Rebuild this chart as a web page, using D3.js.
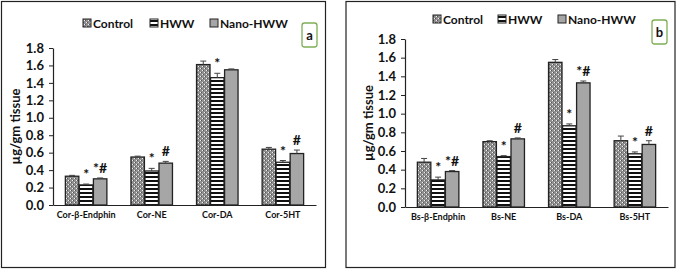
<!DOCTYPE html>
<html>
<head>
<meta charset="utf-8">
<script src="https://d3js.org/d3.v7.min.js"></script>
<style>
  body { margin: 0; background: #fff; }
  text { font-family: Lato, "Open Sans", sans-serif; font-weight: bold; }
</style>
</head>
<body>
<svg id="fig" width="677" height="270"></svg>
<script>
// groups in the legend
const groups = ["Control", "HWW", "Nano-HWW"];

// panel a (cortex)
const corCats = ["Cor-β-Endphin", "Cor-NE", "Cor-DA", "Cor-5HT"];
const corControl = [0.33, 0.55, 1.61, 0.64];
const corHWW = [0.23, 0.39, 1.46, 0.49];
const corNano = [0.30, 0.48, 1.55, 0.59];
const corControlErr = [0.01, 0.01, 0.04, 0.02];
const corHWWErr = [0.01, 0.03, 0.05, 0.02];
const corNanoErr = [0.01, 0.02, 0.01, 0.04];
const corHWWSig = ["*", "*", "*", "*"];
const corNanoSig = ["*#", "#", "", "#"];

// panel b (brain stem)
const bsCats = ["Bs-β-Endphin", "Bs-NE", "Bs-DA", "Bs-5HT"];
const bsControl = [0.48, 0.70, 1.55, 0.71];
const bsHWW = [0.29, 0.54, 0.87, 0.57];
const bsNano = [0.38, 0.73, 1.33, 0.67];
const bsControlErr = [0.04, 0.01, 0.03, 0.05];
const bsHWWErr = [0.03, 0.01, 0.02, 0.02];
const bsNanoErr = [0.01, 0.01, 0.02, 0.04];
const bsHWWSig = ["*", "*", "*", "*"];
const bsNanoSig = ["*#", "#", "*#", "#"];

const yTicks = [0, 0.2, 0.4, 0.6, 0.8, 1.0, 1.2, 1.4, 1.6, 1.8];

const svg = d3.select("#fig");
const defs = svg.append("defs");

// dotted / checkered fill for control
let pc = defs.append("pattern").attr("id", "pControl")
    .attr("patternUnits", "userSpaceOnUse").attr("width", 4).attr("height", 4);
pc.append("rect").attr("width", 4).attr("height", 4).attr("fill", "#8f8f8f");
pc.append("rect").attr("width", 1).attr("height", 1).attr("fill", "#f2f2f2");
pc.append("rect").attr("x", 2).attr("y", 2).attr("width", 1).attr("height", 1).attr("fill", "#f2f2f2");
pc.append("rect").attr("x", 1).attr("y", 0).attr("width", 1).attr("height", 1).attr("fill", "#555");
pc.append("rect").attr("x", 3).attr("y", 2).attr("width", 1).attr("height", 1).attr("fill", "#555");

// horizontal stripes for HWW
let ph = defs.append("pattern").attr("id", "pHWW")
    .attr("patternUnits", "userSpaceOnUse").attr("width", 4).attr("height", 4);
ph.append("rect").attr("width", 4).attr("height", 4).attr("fill", "#fff");
ph.append("rect").attr("width", 4).attr("height", 2).attr("fill", "#111");

const fills = ["url(#pControl)", "url(#pHWW)", "#a6a6a6"];

function drawPanel(p) {
    // outer frame
    svg.append("rect")
        .attr("x", p.frame[0]).attr("y", p.frame[1])
        .attr("width", p.frame[2]).attr("height", p.frame[3])
        .attr("fill", "none").attr("stroke", "#222").attr("stroke-width", 1.2);

    const xScale = d3.scaleBand().domain(p.cats)
        .range([p.left, p.right]).paddingInner(0.35).paddingOuter(0.18);
    const xSub = d3.scaleBand().domain(groups)
        .range([0, xScale.bandwidth()]).padding(0.04);
    const yScale = d3.scaleLinear().domain([0, 1.8]).range([p.bottom, p.top]);

    let g = svg.append("g");

    // y axis
    let leftAxis = d3.axisLeft(yScale).tickValues(yTicks)
        .tickFormat(d3.format(".1f")).tickSize(4).tickSizeOuter(0);
    let ya = g.append("g").attr("transform", "translate(" + p.left + ",0)").call(leftAxis);
    ya.select(".domain").attr("stroke", "#222").attr("stroke-width", 1.2);
    ya.selectAll(".tick line").attr("stroke", "#222");
    ya.selectAll("text").attr("font-size", 13).attr("fill", "#111").attr("dx", -2);

    // x axis
    let bottomAxis = d3.axisBottom(xScale).tickSize(0).tickSizeOuter(0);
    let xa = g.append("g").attr("transform", "translate(0," + p.bottom + ")").call(bottomAxis);
    xa.select(".domain").attr("stroke", "#222").attr("stroke-width", 1.2);
    xa.selectAll("text").attr("font-size", 9).attr("fill", "#111").attr("dy", 10);

    // y label
    g.append("text")
        .attr("transform", "translate(" + p.ylabX + "," + ((p.top + p.bottom) / 2) + ") rotate(-90)")
        .attr("text-anchor", "middle").attr("font-size", 13).attr("fill", "#111")
        .text("µg/gm tissue");

    const series = [p.control, p.hww, p.nano];
    const errs = [p.controlErr, p.hwwErr, p.nanoErr];
    const sigs = [null, p.hwwSig, p.nanoSig];

    series.forEach((vals, si) => {
        let rows = p.cats.map((c, i) => ({cat: c, v: vals[i], e: errs[si][i], s: sigs[si] ? sigs[si][i] : ""}));
        let x0 = d => xScale(d.cat) + xSub(groups[si]);
        let bw = xSub.bandwidth();

        g.selectAll(".bar" + si).data(rows).join("rect")
            .attr("x", x0).attr("y", d => yScale(d.v))
            .attr("width", bw).attr("height", d => yScale(0) - yScale(d.v))
            .attr("fill", fills[si]).attr("stroke", "#222").attr("stroke-width", 1.3);

        // error bars
        g.selectAll(".err" + si).data(rows).join("path")
            .attr("d", d => {
                let cx = x0(d) + bw / 2, yt = yScale(d.v + d.e), yv = yScale(d.v);
                return "M" + cx + "," + yv + "V" + yt + "M" + (cx - 3) + "," + yt + "H" + (cx + 3);
            })
            .attr("stroke", "#444").attr("stroke-width", 1).attr("fill", "none");

        // significance marks
        g.selectAll(".sig" + si).data(rows.filter(d => d.s)).join("text")
            .attr("x", d => x0(d) + bw / 2)
            .attr("y", d => yScale(d.v + d.e) - 5)
            .attr("text-anchor", "middle").attr("font-size", 14).attr("fill", "#111")
            .text(d => d.s);
    });

    // legend
    let lg = g.append("g");
    groups.forEach((name, i) => {
        let lx = p.legendX[i];
        lg.append("rect").attr("x", lx).attr("y", p.legendY - 4).attr("width", 8).attr("height", 8)
            .attr("fill", fills[i]).attr("stroke", "#222").attr("stroke-width", 1);
        lg.append("text").attr("x", lx + 10).attr("y", p.legendY + 4.5)
            .attr("font-size", 12).attr("fill", "#111").text(name);
    });

    // panel letter box
    g.append("rect").attr("x", p.tag[0]).attr("y", p.tag[1]).attr("width", 15).attr("height", 24)
        .attr("rx", 2.5).attr("fill", "#fff").attr("stroke", "#7fae55").attr("stroke-width", 1.3);
    g.append("text").attr("x", p.tag[0] + 7.5).attr("y", p.tag[1] + 17)
        .attr("text-anchor", "middle").attr("font-size", 13).attr("fill", "#111").text(p.letter);
}

drawPanel({
    frame: [1.5, 1.5, 324, 266],
    cats: corCats, control: corControl, hww: corHWW, nano: corNano,
    controlErr: corControlErr, hwwErr: corHWWErr, nanoErr: corNanoErr,
    hwwSig: corHWWSig, nanoSig: corNanoSig,
    left: 53, right: 316, top: 48, bottom: 205, ylabX: 20,
    legendX: [83, 150, 210], legendY: 23,
    tag: [302, 23], letter: "a"
});

drawPanel({
    frame: [346, 1.5, 329, 266],
    cats: bsCats, control: bsControl, hww: bsHWW, nano: bsNano,
    controlErr: bsControlErr, hwwErr: bsHWWErr, nanoErr: bsNanoErr,
    hwwSig: bsHWWSig, nanoSig: bsNanoSig,
    left: 405, right: 668, top: 39, bottom: 207, ylabX: 373,
    legendX: [433, 498, 558], legendY: 19,
    tag: [652, 20], letter: "b"
});
</script>
</body>
</html>
